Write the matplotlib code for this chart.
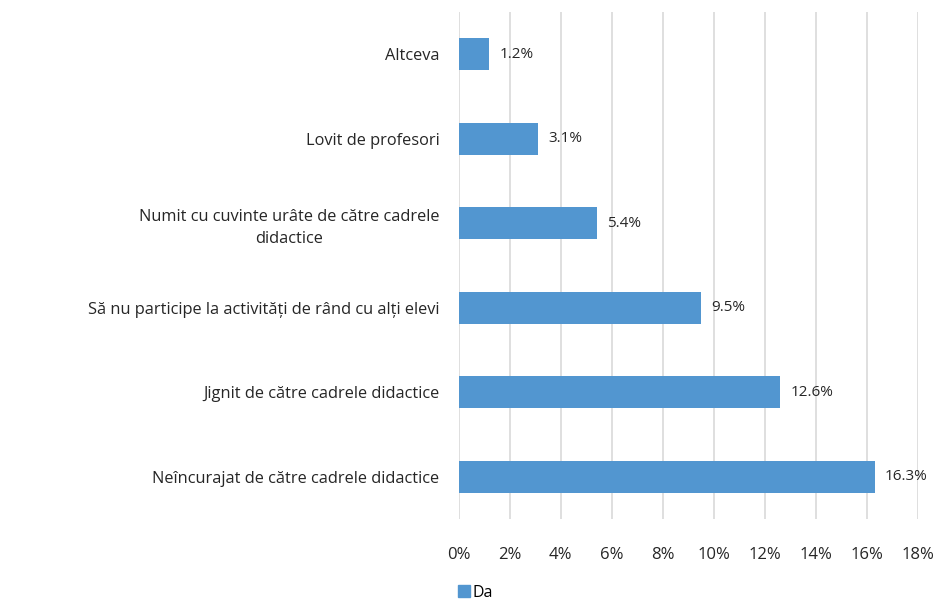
import numpy as np
import matplotlib.pyplot as plt
from matplotlib.patches import Patch

plt.rcParams['font.family'] = ['Open Sans', 'DejaVu Sans']

categories = ['Neîncurajat de către cadrele didactice',
              'Jignit de către cadrele didactice',
              'Să nu participe la activități de rând cu alți elevi',
              'Numit cu cuvinte urâte de către cadrele\ndidactice',
              'Lovit de profesori',
              'Altceva']
values = [16.3, 12.6, 9.5, 5.4, 3.1, 1.2]
xticks = [0, 2, 4, 6, 8, 10, 12, 14, 16, 18]

color = '#5296d0'

fig = plt.figure(figsize=(9.42, 6.0), dpi=100)
ax = fig.add_axes([0.487, 0.135, 0.4875, 0.845])

y = np.arange(len(categories))
bars = ax.barh(y, values, height=0.38, color=color, zorder=3)
for yi, v in zip(y, values):
    ax.text(v + 0.4, yi, f'{v:.1f}%', va='center', ha='left', fontsize=11, color='#262626')

ax.set_xlim(0, 18)
ax.set_ylim(-0.5, 5.5)
ax.set_xticks(xticks)
ax.set_xticklabels([f'{t}%' for t in xticks], fontsize=12, color='#262626')
ax.set_yticks(y)
ax.set_yticklabels(categories, fontsize=11.8, color='#262626', multialignment='center',
                   linespacing=1.5)
ax.tick_params(axis='both', length=0)
ax.tick_params(axis='x', pad=20)
ax.tick_params(axis='y', pad=14)
ax.grid(axis='x', color='#d9d9d9', linewidth=1.2, zorder=0)
for s in ax.spines.values():
    s.set_visible(False)

fig.legend(handles=[Patch(color=color, label='Da')], loc='lower center',
           bbox_to_anchor=(0.505, -0.025), frameon=False, fontsize=11.5,
           handlelength=0.7, handleheight=0.7, handletextpad=0.2)

fig.savefig('out.png', dpi=100)
